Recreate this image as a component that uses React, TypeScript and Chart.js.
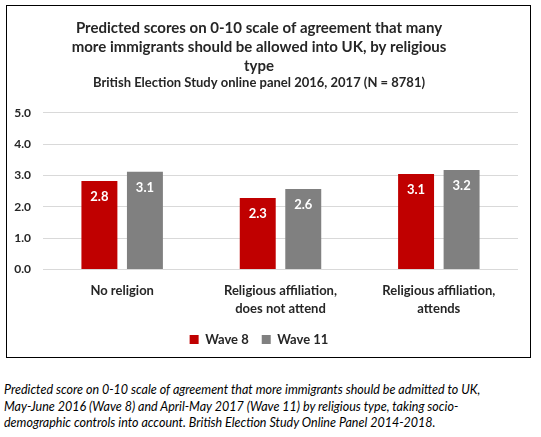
import React, { useEffect, useRef } from "react";
import { Chart, registerables } from "chart.js";

Chart.register(...registerables);

const categories: string[][] = [
  ["No religion"],
  ["Religious affiliation,", "does not attend"],
  ["Religious affiliation,", "attends"],
];
const wave8: number[] = [2.83, 2.28, 3.05];
const wave11: number[] = [3.12, 2.57, 3.18];
const wave8Labels: string[] = ["2.8", "2.3", "3.1"];
const wave11Labels: string[] = ["3.1", "2.6", "3.2"];
const seriesNames: string[] = ["Wave 8", "Wave 11"];
const titleLines: string[] = [
  "Predicted scores on 0-10 scale of agreement that many",
  "more immigrants should be allowed into UK, by religious",
  "type",
];
const subtitleText = "British Election Study online panel 2016, 2017 (N = 8781)";
const captionLines: string[] = [
  "Predicted score on 0-10 scale of agreement that more immigrants should be admitted to UK,",
  "May-June 2016 (Wave 8) and April-May 2017 (Wave 11) by religious type, taking socio-",
  "demographic controls into account. British Election Study Online Panel 2014-2018.",
];

const FONT = "Lato, 'Open Sans', sans-serif";

const valueLabelPlugin = {
  id: "valueLabels",
  afterDatasetsDraw(chart: any) {
    const ctx = chart.ctx;
    const labelSets = [wave8Labels, wave11Labels];
    ctx.save();
    ctx.fillStyle = "#ffffff";
    ctx.font = `bold 13px ${FONT}`;
    ctx.textAlign = "center";
    ctx.textBaseline = "middle";
    chart.data.datasets.forEach((_ds: any, di: number) => {
      const meta = chart.getDatasetMeta(di);
      meta.data.forEach((bar: any, i: number) => {
        ctx.fillText(labelSets[di][i], bar.x, bar.y + 16);
      });
    });
    ctx.restore();
  },
};

export default function App() {
  const ref = useRef<HTMLCanvasElement | null>(null);

  useEffect(() => {
    if (!ref.current) return;
    const chart = new Chart(ref.current, {
      type: "bar",
      data: {
        labels: categories,
        datasets: [
          {
            label: seriesNames[0],
            data: wave8,
            backgroundColor: "#c00000",
            borderWidth: 0,
            categoryPercentage: 0.575,
            barPercentage: 0.79,
          },
          {
            label: seriesNames[1],
            data: wave11,
            backgroundColor: "#808080",
            borderWidth: 0,
            categoryPercentage: 0.575,
            barPercentage: 0.79,
          },
        ],
      },
      options: {
        animation: false,
        responsive: false,
        maintainAspectRatio: false,
        devicePixelRatio: 1,
        layout: { padding: { left: 0, right: 6, top: 0, bottom: 9 } },
        plugins: {
          tooltip: { enabled: false },
          title: {
            display: true,
            text: titleLines,
            color: "#262626",
            font: { family: FONT, size: 15, weight: "bold", lineHeight: 1.25 },
            padding: { top: 19, bottom: 0 },
          },
          subtitle: {
            display: true,
            text: subtitleText,
            color: "#262626",
            font: { family: FONT, size: 13, weight: "bold", lineHeight: 1.2 },
            padding: { top: 0, bottom: 22 },
          },
          legend: {
            display: true,
            position: "bottom",
            labels: {
              boxWidth: 9,
              boxHeight: 9,
              padding: 13,
              color: "#262626",
              font: { family: FONT, size: 13, weight: "bold" },
            },
          },
        },
        scales: {
          x: {
            grid: { display: false, drawTicks: false },
            border: { display: false },
            afterFit(scale: any) {
              scale.height = scale.height - 10;
            },
            ticks: {
              color: "#262626",
              padding: 12,
              maxRotation: 0,
              autoSkip: false,
              font: { family: FONT, size: 13, weight: "bold", lineHeight: 1.4 },
            },
          },
          y: {
            min: 0,
            max: 5,
            grid: { color: "#d9d9d9", lineWidth: 1, drawTicks: false },
            border: { display: false },
            afterFit(scale: any) {
              scale.width = 43;
            },
            ticks: {
              stepSize: 1,
              padding: 12,
              color: "#262626",
              font: { family: FONT, size: 12, weight: "bold" },
              callback: (v: any) => Number(v).toFixed(1),
            },
          },
        },
      },
      plugins: [valueLabelPlugin],
    } as any);
    return () => chart.destroy();
  }, []);

  return (
    <div
      style={{
        position: "absolute",
        left: 0,
        top: 0,
        width: 541,
        height: 437,
        background: "#ffffff",
        overflow: "hidden",
      }}
    >
      <div
        style={{
          position: "absolute",
          left: 6,
          top: 5,
          width: 525,
          height: 353,
          border: "1.5px solid #000",
          boxSizing: "border-box",
        }}
      />
      <canvas
        ref={ref}
        width={524}
        height={365}
        style={{ position: "absolute", left: 0, top: 0, width: 524, height: 365 }}
      />
      <div
        style={{
          position: "absolute",
          left: 4,
          top: 382,
          fontFamily: FONT,
          fontStyle: "italic",
          fontSize: 12.5,
          lineHeight: "16.7px",
          color: "#000",
          whiteSpace: "nowrap",
        }}
      >
        {captionLines.map((l, i) => (
          <div key={i}>{l}</div>
        ))}
      </div>
    </div>
  );
}
